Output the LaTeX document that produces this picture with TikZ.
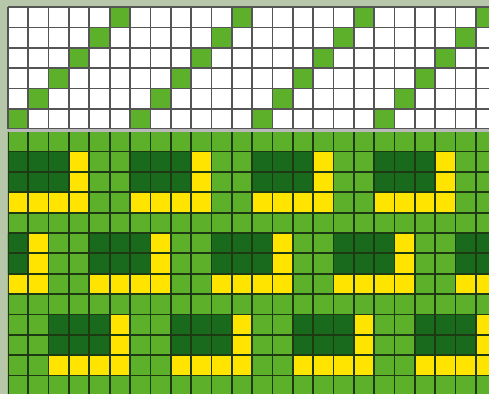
\documentclass[tikz,border=0pt]{standalone}
\definecolor{frame}{HTML}{B7C8AA}
\definecolor{leaf}{HTML}{5DB12A}
\definecolor{moss}{HTML}{1A6A1E}
\definecolor{sun}{HTML}{FFE400}
\definecolor{rule}{HTML}{555555}
\definecolor{ink}{HTML}{1E3A12}
\begin{document}
\begin{tikzpicture}[scale=0.5, yscale=-1]
  \useasboundingbox (0,0) rectangle (24.03,19.36);
  \fill[frame] (0,0) rectangle (24.03,19.36);
  \clip (0,0) rectangle (24.03,19.36);
  % threading draft
  \begin{scope}[shift={(0.39,0.35)}]
    \fill[white] (0,0) rectangle (24,6);
    \foreach \r in {1,...,6} \foreach \k in {0,...,3}
      \fill[leaf] ({6-\r+6*\k},\r-1) rectangle +(1,1);
    \draw[rule, line width=1.2pt] (0,0) grid (24,6);
  \end{scope}
  % cloth
  \begin{scope}[shift={(0.39,6.45)}]
    \clip (0,0) rectangle (24,13);
    \fill[leaf] (0,0) rectangle (24,13);
    \foreach \c/\r in {0/1, 4/5, 2/9}
      \foreach \k in {-1,...,4} {
        \fill[moss] ({\c+6*\k},\r) rectangle +(3,2);
        \fill[sun] ({\c+6*\k+3},\r) rectangle +(1,3);
        \fill[sun] ({\c+6*\k},\r+2) rectangle +(4,1);
      }
    \draw[ink, line width=1.2pt] (0,0) grid (24,13);
  \end{scope}
  \draw[gray!55, line width=2.1pt] (0.39,6.4) -- (24.03,6.4);
\end{tikzpicture}
\end{document}
